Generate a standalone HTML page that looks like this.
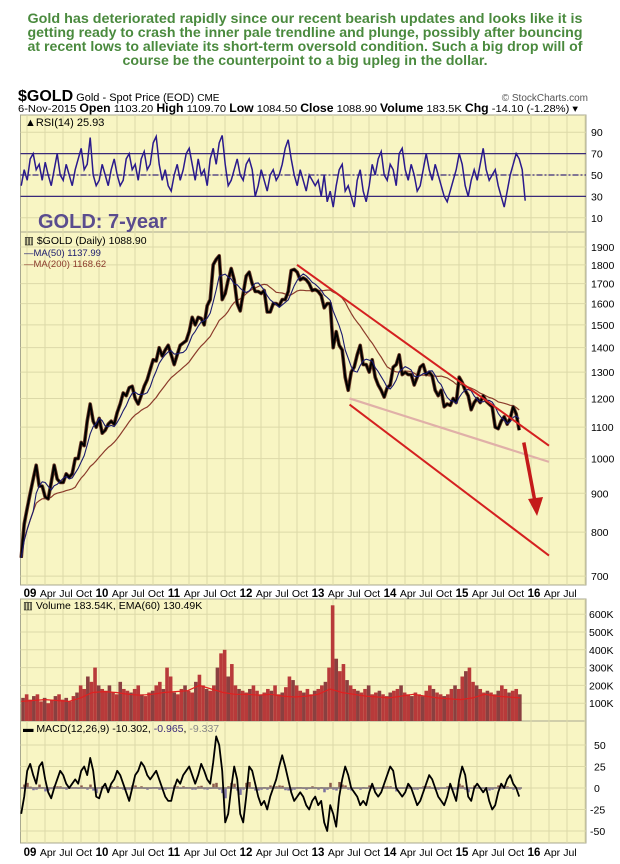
<!DOCTYPE html>
<html><head><meta charset="utf-8"><style>
html,body{margin:0;padding:0;background:#fff;width:620px;height:864px;overflow:hidden}
svg{display:block;font-family:"Liberation Sans",sans-serif}
</style></head><body>
<svg id="chart" width="620" height="864" viewBox="0 0 620 864" xmlns="http://www.w3.org/2000/svg">
<g fill="#4a8a3e" font-weight="bold" font-size="13.5" text-anchor="middle">
<text x="305" y="23" textLength="555" lengthAdjust="spacingAndGlyphs">Gold has deteriorated rapidly since our recent bearish updates and looks like it is</text>
<text x="305" y="37" textLength="555" lengthAdjust="spacingAndGlyphs">getting ready to crash the inner pale trendline and plunge, possibly after bouncing</text>
<text x="305" y="51" textLength="555" lengthAdjust="spacingAndGlyphs">at recent lows to alleviate its short-term oversold condition. Such a big drop will of</text>
<text x="305" y="65" textLength="365" lengthAdjust="spacingAndGlyphs">course be the counterpoint to a big upleg in the dollar.</text>
</g>
<g font-size="11">
<text x="18" y="101"><tspan font-weight="bold" font-size="16">$GOLD</tspan> Gold - Spot Price (EOD) <tspan font-size="10">CME</tspan></text>
<text x="588" y="101" text-anchor="end" fill="#555" font-size="10">© StockCharts.com</text>
<text x="18" y="112" font-size="10.5" textLength="560" lengthAdjust="spacingAndGlyphs">6-Nov-2015 <tspan font-weight="bold" font-size="11.5">Open</tspan> 1103.20 <tspan font-weight="bold" font-size="11.5">High</tspan> 1109.70 <tspan font-weight="bold" font-size="11.5">Low</tspan> 1084.50 <tspan font-weight="bold" font-size="11.5">Close</tspan> 1088.90 <tspan font-weight="bold" font-size="11.5">Volume</tspan> 183.5K <tspan font-weight="bold" font-size="11.5">Chg</tspan> -14.10 (-1.28%) ▾</text>
</g>
<g id="panels"></g>
<g id="grid"></g>
<g id="marks"></g>
<g id="labels" font-size="10.5"></g>
</svg>
<script>
const priceStart = 2008.92;
const priceStep = 1/24;
const prices = [740,820,
860,900,940,980,920,920,890,885,930,980,940,930,930,955,945,955,1000,1000,1050,1040,1120,1180,1120,1100,
1130,1080,1090,1110,1120,1110,1150,1180,1220,1210,1240,1245,1200,1180,1210,1245,1270,1310,1350,1345,1400,1365,1390,1410,
1370,1330,1370,1410,1420,1430,1470,1535,1500,1535,1530,1500,1590,1620,1800,1830,1850,1620,1650,1720,1780,1720,1600,1565,
1650,1740,1760,1700,1660,1660,1650,1665,1560,1560,1600,1600,1590,1620,1620,1660,1770,1775,1760,1720,1730,1720,1700,1665,
1670,1660,1640,1580,1600,1600,1400,1470,1410,1390,1280,1230,1300,1320,1370,1410,1330,1330,1300,1350,1280,1250,1230,1205,
1240,1250,1320,1330,1370,1290,1300,1290,1290,1250,1280,1320,1330,1290,1300,1285,1230,1210,1230,1170,1180,1175,1200,1185,
1280,1260,1230,1210,1160,1185,1200,1185,1210,1190,1180,1170,1100,1095,1120,1135,1110,1130,1170,1145,1090];
const rsiValues = [40,55,
45,65,70,55,60,45,62,50,40,55,70,50,45,60,50,40,55,65,75,55,60,85,50,40,
45,60,50,40,55,65,50,40,45,65,70,55,60,45,65,72,55,60,80,86,60,45,55,40,
35,50,60,45,55,70,75,60,45,65,50,55,40,65,75,60,80,87,60,40,45,55,65,50,
45,60,65,55,30,40,55,45,35,50,55,45,50,60,75,83,65,50,40,55,45,35,50,45,
40,45,30,50,25,35,20,40,55,60,35,40,30,20,45,55,35,25,40,60,50,65,72,50,
45,60,55,40,70,75,55,45,60,50,35,40,55,70,55,45,60,50,40,30,25,35,45,55,
70,60,40,30,45,55,45,60,75,55,45,50,55,40,30,20,35,50,60,70,65,55,26];
const macdValues = [-30,-10,
20,28,15,5,25,30,10,-5,-12,0,10,20,15,5,0,5,10,5,20,25,15,35,20,-10,
-12,0,5,-5,5,10,20,15,5,-5,-15,0,15,20,30,25,15,10,15,20,10,0,-10,-15,
-15,0,10,5,15,20,25,15,5,15,28,20,10,5,30,60,50,20,-40,-30,0,25,10,-30,
-40,-10,25,20,5,-10,-20,-15,-25,-10,0,10,25,38,25,10,-5,-15,-10,-5,-10,-20,-25,-15,
-10,-20,-15,-40,-50,-20,-30,-45,-10,10,25,15,0,-5,-10,-20,-15,-20,-5,5,-5,-10,-5,5,
15,25,20,0,-5,-10,-5,5,0,-10,-20,-15,-5,5,15,10,0,-10,-15,-20,-10,5,-5,-15,
10,25,15,-10,-15,0,5,0,-5,0,-15,-25,-20,-5,5,0,10,15,5,0,-10];
const volStep = 1/20;
const volumeK = [130,150,
120,140,150,110,130,100,120,140,150,120,130,110,140,160,200,180,250,220,300,200,
180,170,200,160,150,220,180,170,160,180,200,150,140,160,170,200,220,180,300,250,
160,150,180,200,170,160,220,260,200,180,170,200,300,380,400,250,320,200,180,170,
160,180,200,170,150,160,180,170,200,150,160,190,250,230,200,170,160,180,150,170,
180,200,220,300,650,350,280,320,230,200,180,170,160,180,200,150,160,170,150,140,
160,170,180,200,160,150,140,160,150,140,170,200,180,160,150,140,150,180,200,180,
250,280,300,220,200,180,160,170,160,150,170,200,180,160,170,180,150];
const volumeEma = [110,115,120,115,110,130,160,165,160,150,145,150,160,165,170,200,180,160,150,150,145,150,140,135,140,150,180,160,150,140,135,130,140,150,140,130,125,120,130,150,140,135,130];
const priceTicks = [1900,1800,1700,1600,1500,1400,1300,1200,1100,1000,900,800,700];
const rsiTicks = [90,70,50,30,10];
const volTicks = [600,500,400,300,200,100];
const macdTicks = [50,25,0,-25,-50];
const yearLabels = ["09","10","11","12","13","14","15","16"];
const monthLabels = ["Apr","Jul","Oct"];
const channelUpper = [[2012.75,1800],[2016.25,1040]];
const channelInner = [[2013.48,1200],[2016.25,990]];
const channelLower = [[2013.48,1178],[2016.25,745]];
const arrowPts = [[2015.9,1050],[2016.07,840]];

const L=20.5,R=586;
const xT=t=>27+(t-2009)*72;
const yP=p=>247+(Math.log10(1900)-Math.log10(p))*759;
const yR=v=>175-(v-50)*1.07;
const yV=k=>721-k*0.178;
const yM=m=>788-m*0.86;
const NS="http://www.w3.org/2000/svg";
function mk(parent,tag,attrs){const e=document.createElementNS(NS,tag);for(const k in attrs)e.setAttribute(k,attrs[k]);document.getElementById(parent).appendChild(e);return e;}
const panels=[["rsi-panel",115,232],["price-panel",232,585],["volume-panel",599,721],["macd-panel",721,843]];
panels.forEach(p=>{const r=mk("panels","rect",{x:L,y:p[1],width:R-L,height:p[2]-p[1],fill:"#f8f5c3",stroke:"#a8a890","stroke-width":1});

});
for(let y=2009;y<=2016;y++)for(let q=0;q<4;q++){const x=xT(y+q/4);if(x<L||x>R)continue;
panels.forEach(p=>{const g=mk("grid","line",{x1:x,x2:x,y1:p[1],y2:p[2],stroke:"#dcd9a8","stroke-width":1});

});}
priceTicks.forEach(v=>{const y=yP(v);const g=mk("grid","line",{x1:L,x2:R,y1:y,y2:y,stroke:"#dcd9a8"});


const t=mk("labels","text",{x:591,y:y+4});t.textContent=v;

});
rsiTicks.forEach(v=>{const y=yR(v);const g=mk("grid","line",{x1:L,x2:R,y1:y,y2:y,stroke:"#dcd9a8"});


const t=mk("labels","text",{x:591,y:y+4});t.textContent=v;

});
volTicks.forEach(v=>{const y=yV(v);const g=mk("grid","line",{x1:L,x2:R,y1:y,y2:y,stroke:"#dcd9a8"});


const t=mk("labels","text",{x:589,y:y+4});t.textContent=v+"K";

});
macdTicks.forEach(v=>{const y=yM(v);const g=mk("grid","line",{x1:L,x2:R,y1:y,y2:y,stroke:"#dcd9a8"});


const t=mk("labels","text",{x:v<0?590:594,y:y+4});t.textContent=v;

});
[597,856].forEach((yy,i)=>{yearLabels.forEach((lab,k)=>{const y0=2009+k;
const t=mk("labels","text",{x:xT(y0)+3,y:yy,"text-anchor":"middle","font-weight":"bold","font-size":"11.5"});t.textContent=lab;


monthLabels.forEach((m,j)=>{const x=xT(y0+(j+1)/4)+3;if(x>R)return;const s=mk("labels","text",{x:x,y:yy,"text-anchor":"middle"});s.textContent=m;

});});});
[[70,"none"],[30,"none"],[50,"6,2,2,2"]].forEach(a=>{const l=mk("marks","line",{x1:L,x2:R,y1:yR(a[0]),y2:yR(a[0]),stroke:"#3a2a7a","stroke-width":1.2,"stroke-dasharray":a[1]});

});
const rsiPts=rsiValues.map((v,i)=>xT(priceStart+i*priceStep).toFixed(1)+","+yR(v).toFixed(1)).join(" ");
const rl=mk("marks","polyline",{points:rsiPts,fill:"none",stroke:"#2a1a8c","stroke-width":1.5});


function ma(n){return prices.map((p,i)=>{const a=prices.slice(Math.max(0,i-n+1),i+1);return a.reduce((s,v)=>s+v,0)/a.length;});}
const ma50=ma(5),ma200=ma(19);
function line(arr,stroke,w,name){const pts=arr.map((v,i)=>xT(priceStart+i*priceStep).toFixed(1)+","+yP(v).toFixed(1)).join(" ");
const e=mk("marks","polyline",{points:pts,fill:"none",stroke:stroke,"stroke-width":w,"stroke-linejoin":"round"});

}
line(ma200,"#8b3b2b",1.2,"ma200-line");
line(prices,"#6a3a2a",3.6,"price-range");
line(prices,"#000",2,"price-line");
line(ma50,"#1a1a6e",1.1,"ma50-line");
function seg(pts,stroke,w,name){const e=mk("marks","line",{x1:xT(pts[0][0]),y1:yP(pts[0][1]),x2:xT(pts[1][0]),y2:yP(pts[1][1]),stroke:stroke,"stroke-width":w});

}
seg(channelInner,"#e0b0a8",2.2,"inner-pale-trendline");
seg(channelUpper,"#d42020",2,"upper-channel-line");
seg(channelLower,"#d42020",2,"lower-channel-line");
const ax1=xT(arrowPts[0][0]),ay1=yP(arrowPts[0][1]),ax2=xT(arrowPts[1][0]),ay2=yP(arrowPts[1][1]);
const al=mk("marks","line",{x1:ax1,y1:ay1,x2:ax2-1,y2:ay2-14,stroke:"#c41a1a","stroke-width":3.5});


const ah=mk("marks","polygon",{points:`${ax2-8},${ay2-17} ${ax2+7},${ay2-19} ${ax2+1},${ay2}`,fill:"#c41a1a"});


volumeK.forEach((v,i)=>{const x0=xT(priceStart+i*volStep),x1=xT(priceStart+(i+1)*volStep);if(x0>522)return;
const b=mk("marks","rect",{x:x0,y:yV(v),width:Math.min(x1,522)-x0,height:721-yV(v),fill:(i%3==0)?"#8a4040":"#b83a3a"});

});
const emaPts=volumeEma.map((v,i)=>xT(priceStart+i*(6.93/(volumeEma.length-1))).toFixed(1)+","+yV(v).toFixed(1)).join(" ");
const el=mk("marks","polyline",{points:emaPts,fill:"none",stroke:"#e02020","stroke-width":1.2});


macdValues.forEach((v,i)=>{if(i===0)return;const h=(v-macdValues[i-1])*0.2;const x=xT(priceStart+i*priceStep);
const b=mk("marks","rect",{x:x-1,y:Math.min(yM(0),yM(h)),width:2.5,height:Math.abs(yM(h)-yM(0)),fill:h>0?"#8a5a4a":"#7a70a0"});

});
const z=mk("marks","line",{x1:L,x2:522,y1:yM(0),y2:yM(0),stroke:"#8a8080","stroke-width":1.8});


const mp=macdValues.map((v,i)=>xT(priceStart+i*priceStep).toFixed(1)+","+yM(v).toFixed(1)).join(" ");
const ml=mk("marks","polyline",{points:mp,fill:"none",stroke:"#000","stroke-width":1.8,"stroke-linejoin":"round"});


</script>
<div style="position:absolute;left:0;top:0;width:620px;height:864px;pointer-events:none">
<svg width="620" height="864" style="position:absolute;left:0;top:0" font-family="Liberation Sans,sans-serif">
<g font-size="10.5">
<text x="25" y="126" font-size="11">▲RSI(14) 25.93</text>
<text x="38" y="228" font-weight="bold" font-size="20" fill="#5a4c8e">GOLD: 7-year</text>
<text x="24" y="244">▥ $GOLD (Daily) 1088.90</text>
<text x="24" y="256" fill="#1a1a6e" font-size="9.5">—MA(50) 1137.99</text>
<text x="24" y="267" fill="#8b3b2b" font-size="9.5">—MA(200) 1168.62</text>
<text x="23" y="609">▥ Volume 183.54K, EMA(60) 130.49K</text>
<text x="23" y="732">▬ MACD(12,26,9) -10.302, <tspan fill="#3a2a7a">-0.965</tspan>, <tspan fill="#888">-9.337</tspan></text>
</g>
</svg></div>
</body></html>
